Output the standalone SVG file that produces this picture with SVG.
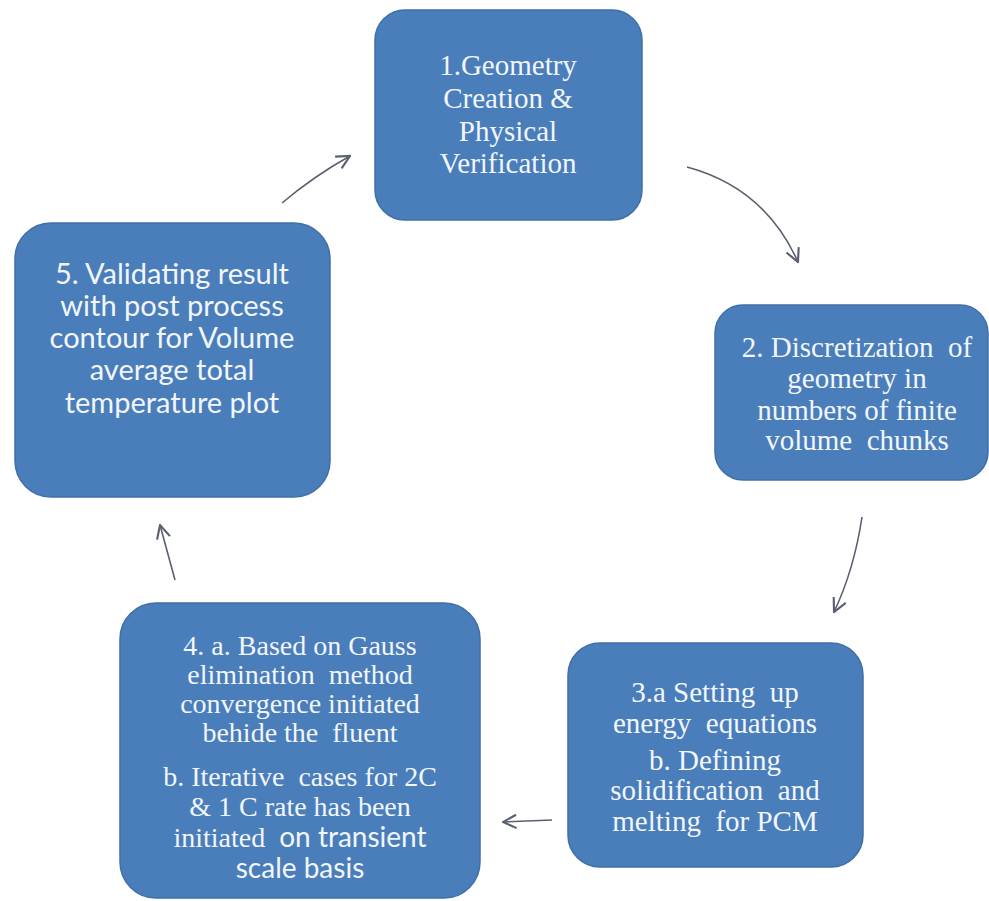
<svg xmlns="http://www.w3.org/2000/svg" width="989" height="901" viewBox="0 0 989 901">
<defs>
<style>
.box{fill:#4A7EBB;stroke:#3F6FA8;stroke-width:1.5}
.t{fill:#F2F6FC;font-family:"Liberation Serif","Times New Roman",serif;font-size:29px;text-anchor:middle;white-space:pre}
.s{fill:#F2F6FC;font-family:Lato,"Liberation Sans",sans-serif;font-size:29px;text-anchor:middle;white-space:pre}
.t4{font-size:28px}
.sans{font-family:Lato,"Liberation Sans",sans-serif}
.c{fill:none;stroke:#5A6070;stroke-width:1.6}
</style>
<marker id="ah" markerUnits="userSpaceOnUse" markerWidth="16" markerHeight="16" refX="11" refY="6" orient="auto" viewBox="0 0 12 12">
<path d="M1,1 L11,6 L1,11" fill="none" stroke="#5A6070" stroke-width="1.6"/>
</marker>
</defs>
<rect width="989" height="901" fill="#FFFFFF"/>
<g id="connectors">
<path class="c" d="M282,203 Q314,176 350,156" marker-end="url(#ah)"/>
<path class="c" d="M687,167 Q765,188 798,262" marker-end="url(#ah)"/>
<path class="c" d="M862,517 Q854,570 834,612" marker-end="url(#ah)"/>
<path class="c" d="M552,820 L503,822" marker-end="url(#ah)"/>
<path class="c" d="M175,580 L160,525" marker-end="url(#ah)"/>
</g>
<g id="node1">
<rect class="box" x="375" y="10" width="267" height="210" rx="30"/>
<text class="t" x="508" y="75">1.Geometry</text>
<text class="t" x="508" y="108">Creation &amp;</text>
<text class="t" x="508" y="141">Physical</text>
<text class="t" x="508" y="173">Verification</text>
</g>
<g id="node2">
<rect class="box" x="715" y="305" width="273" height="175" rx="28"/>
<text class="t" x="857" y="357">2. Discretization  of</text>
<text class="t" x="857" y="388">geometry in</text>
<text class="t" x="857" y="420">numbers of finite</text>
<text class="t" x="857" y="450">volume  chunks</text>
</g>
<g id="node3">
<rect class="box" x="568" y="643" width="295" height="224" rx="32"/>
<text class="t" x="715" y="702">3.a Setting  up</text>
<text class="t" x="715" y="733">energy  equations</text>
<text class="t" x="715" y="770">b. Defining</text>
<text class="t" x="715" y="800">solidification  and</text>
<text class="t" x="715" y="831">melting  for PCM</text>
</g>
<g id="node4">
<rect class="box" x="120" y="603" width="360" height="295" rx="36"/>
<text class="t t4" x="300" y="655">4. a. Based on Gauss</text>
<text class="t t4" x="300" y="684">elimination  method</text>
<text class="t t4" x="300" y="713">convergence initiated</text>
<text class="t t4" x="300" y="742">behide the  fluent</text>
<text class="t t4" x="300" y="786">b. Iterative  cases for 2C</text>
<text class="t t4" x="300" y="816">&amp; 1 C rate has been</text>
<text class="t t4" x="300" y="847">initiated  <tspan class="sans">on transient</tspan></text>
<text class="s t4" x="300" y="878">scale basis</text>
</g>
<g id="node5">
<rect class="box" x="15" y="223" width="315" height="274" rx="36"/>
<text class="s" x="172" y="284">5. Validating result</text>
<text class="s" x="172" y="316">with post process</text>
<text class="s" x="172" y="348">contour for Volume</text>
<text class="s" x="172" y="380">average total</text>
<text class="s" x="172" y="413">temperature plot</text>
</g>
</svg>
